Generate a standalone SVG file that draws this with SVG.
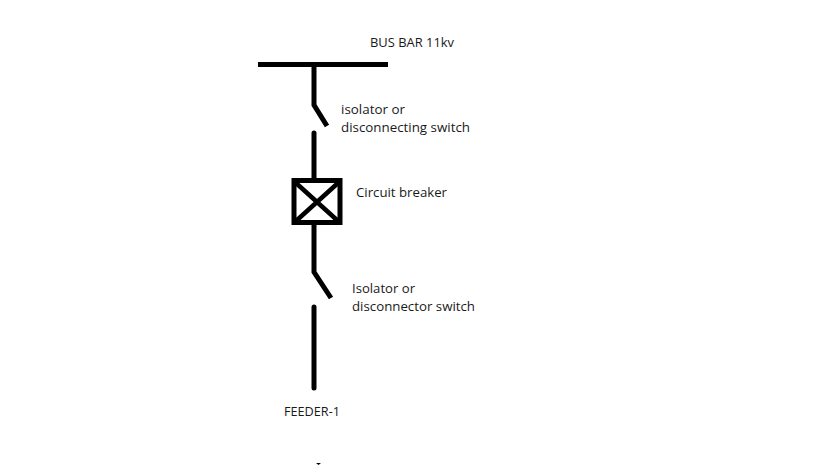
<svg xmlns="http://www.w3.org/2000/svg" width="819" height="469" viewBox="0 0 819 469">
<style>
text{font-family:"Open Sans","Noto Sans",sans-serif;font-size:13px;fill:#1a1a1a}
.w{fill:none;stroke:#000;stroke-width:5}
.r{stroke-linecap:round}
</style>
<rect width="819" height="469" fill="#fff"/>
<g id="connectors">
<path class="w" d="M258 64.500H388"/>
<path class="w" d="M314 65V105L327 126"/>
<path class="w r" d="M314 133V178"/>
<path class="w" d="M314 224V272L331 298"/>
<path class="w r" d="M314 307V388"/>
</g>
<g id="busbar"><text x="370" y="47" textLength="84" lengthAdjust="spacingAndGlyphs">BUS BAR 11kv</text></g>
<g id="isolator-1"><text x="341" y="114" textLength="64" lengthAdjust="spacingAndGlyphs">isolator or</text><text x="341" y="132" textLength="129" lengthAdjust="spacingAndGlyphs">disconnecting switch</text></g>
<g id="breaker">
<rect class="w" x="294" y="180.500" width="46" height="42"/>
<path class="w" d="M296 183L338 221M338 183L296 221" style="stroke-width:4.500"/>
<text x="356" y="197" textLength="91" lengthAdjust="spacingAndGlyphs">Circuit breaker</text>
</g>
<g id="isolator-2"><text x="352" y="293" textLength="63" lengthAdjust="spacingAndGlyphs">Isolator or</text><text x="352" y="311" textLength="123" lengthAdjust="spacingAndGlyphs">disconnector switch</text></g>
<g id="feeder"><text x="284" y="416" textLength="56" lengthAdjust="spacingAndGlyphs">FEEDER-1</text></g>
<path d="M316 463H321L318.500 465Z" fill="#000"/>
</svg>
